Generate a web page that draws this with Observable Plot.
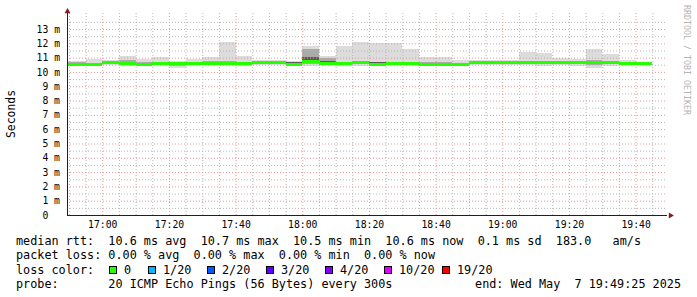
<!DOCTYPE html>
<html><head><meta charset="utf-8">
<script src="https://cdn.jsdelivr.net/npm/d3@7"></script>
<script src="https://cdn.jsdelivr.net/npm/@observablehq/plot@0.6"></script>
<style>
html,body{margin:0;padding:0;background:#fff;}
#wrap{position:relative;width:697px;height:297px;overflow:hidden;font-family:"DejaVu Sans Mono",monospace;color:#000;}
#chart svg{display:block;}
#ylab{position:absolute;left:11px;top:114px;transform:translate(-50%,-50%) rotate(-90deg);font-size:11.4px;white-space:nowrap;}
#wm{position:absolute;left:682px;top:5px;writing-mode:vertical-rl;font-size:8.3px;color:#b4b4b4;white-space:pre;}
#legend{position:absolute;left:16px;top:234px;width:665px;font-size:11.8px;line-height:14.3px;white-space:pre;}
.ln{height:14.3px;display:flex;align-items:center;}
.lc-item{display:flex;align-items:center;}
.box{display:inline-block;width:6px;height:6px;border:1px solid #000;margin-right:7px;}
</style>
</head><body>
<div id="wrap">
  <div id="chart"></div>
  <div id="ylab">Seconds</div>
  <div id="wm">RRDTOOL / TOBI OETIKER</div>
  <div id="legend"></div>
</div>
<script>
// ---- data ----
const intervalStarts = ["16:50","16:55","17:00","17:05","17:10","17:15","17:20","17:25","17:30","17:35",
  "17:40","17:45","17:50","17:55","18:00","18:05","18:10","18:15","18:20","18:25",
  "18:30","18:35","18:40","18:45","18:50","18:55","19:00","19:05","19:10","19:15",
  "19:20","19:25","19:30","19:35","19:40"];
const medianMs = [10.54,10.55,10.63,10.62,10.55,10.57,10.61,10.61,10.61,10.61,
  10.61,10.63,10.63,10.53,10.71,10.61,10.56,10.63,10.54,10.56,
  10.56,10.54,10.54,10.54,10.63,10.63,10.65,10.63,10.63,10.63,
  10.68,10.63,10.63,10.61,10.61];
const smokeMax = [10.78,10.88,10.80,11.09,10.92,11.04,10.74,10.92,11.04,12.07,
  11.13,10.85,10.85,10.78,11.79,11.13,11.79,12.09,12.02,12.02,
  11.62,11.02,11.02,10.85,10.85,10.85,10.80,11.39,11.32,10.97,
  10.90,11.62,11.27,10.85,null];
const smokeMin = [10.39,10.48,10.50,10.45,10.45,10.47,10.30,10.48,10.50,10.50,
  10.42,10.52,10.52,10.50,10.45,10.50,10.40,10.45,10.45,10.48,
  10.48,10.48,10.48,10.50,10.50,10.48,10.52,10.50,10.40,10.50,
  10.45,10.31,10.45,10.50,null];
const smokeQ3 = [10.70,10.65,10.70,10.80,10.68,10.72,10.66,10.68,10.78,10.75,
  10.70,10.78,10.72,10.62,11.60,10.95,10.72,10.75,10.68,10.70,
  10.72,10.68,10.68,10.62,10.75,10.70,10.72,10.72,10.72,10.70,
  10.72,10.80,10.72,10.70,null];
const smokeQ1 = [10.48,10.50,10.55,10.55,10.50,10.52,10.45,10.55,10.55,10.55,
  10.52,10.58,10.58,10.52,10.55,10.55,10.50,10.55,10.50,10.52,
  10.52,10.50,10.50,10.52,10.58,10.55,10.58,10.58,10.55,10.58,
  10.55,10.50,10.55,10.55,null];
const coreHi = [10.58,10.58,10.66,10.70,10.58,10.64,10.64,10.64,10.70,10.64,
  10.64,10.70,10.66,10.66,11.05,10.75,10.60,10.66,10.66,10.60,
  10.66,10.58,10.58,10.58,10.68,10.58,10.68,10.66,10.66,10.66,
  10.60,10.72,10.66,10.64,null];
const coreLo = [10.52,10.53,10.60,10.62,10.53,10.58,10.58,10.58,10.62,10.58,
  10.58,10.62,10.60,10.60,10.75,10.62,10.53,10.60,10.60,10.53,
  10.58,10.52,10.52,10.52,10.62,10.53,10.62,10.60,10.60,10.60,
  10.54,10.62,10.60,10.58,null];
const xTickLabels = ["17:00","17:20","17:40","18:00","18:20","18:40","19:00","19:20","19:40"];
const yTickValues = [0,1,2,3,4,5,6,7,8,9,10,11,12,13];
const lossColors = [["0","#26ff00"],["1/20","#00b8ff"],["2/20","#0059ff"],["3/20","#5e00ff"],["4/20","#7e00ff"],["10/20","#dd00ff"],["19/20","#ff0000"]];
const legendLines = [
  "median rtt:  10.6 ms avg  10.7 ms max  10.5 ms min  10.6 ms now  0.1 ms sd  183.0   am/s",
  "packet loss: 0.00 % avg  0.00 % max  0.00 % min  0.00 % now"
];
const probeText = "probe:       20 ICMP Echo Pings (56 Bytes) every 300s";
const endText = "end: Wed May  7 19:49:25 2025";
const startTime = "16:49:25", endTime = "19:49:25";

// ---- build ----
const T = s => { const [h,m,sec] = s.split(":").map(Number); return new Date(Date.UTC(2025,4,7,h,m,sec||0)); };
const x0 = T(startTime), x1 = T(endTime);
const yTop = 14.12;
const rows = intervalStarts.map((s,i) => ({
  t0: i === 0 ? x0 : T(s),
  t1: new Date(T(s).getTime() + 5*60000),
  med: medianMs[i], max: smokeMax[i], min: smokeMin[i],
  q3: smokeQ3[i], q1: smokeQ1[i], chi: coreHi[i], clo: coreLo[i]
}));
const smoke = rows.filter(d => d.max != null);
const minute5 = d3.utcMinute.every(5).range(T("16:50"), x1);
const majorX = xTickLabels.map(T);
const minorX = minute5.filter(d => d.getUTCMinutes() % 20 !== 0);
const majorY = yTickValues.filter(v => v > 0);
const minorY = yTickValues.map(v => v + 0.5);
const bandHalf = 0.1;

const chart = Plot.plot({
  width: 697, height: 232,
  marginLeft: 67, marginRight: 30, marginTop: 13, marginBottom: 17,
  style: {fontFamily: "DejaVu Sans Mono", fontSize: "9.75px", color: "#000", background: "transparent", overflow: "visible"},
  x: {type: "utc", domain: [x0, x1], ticks: majorX, tickFormat: d3.utcFormat("%H:%M"), tickSize: 0, tickPadding: 6, label: null},
  y: {domain: [0, yTop], ticks: yTickValues, tickFormat: d => d === 0 ? "0\u00a0\u00a0" : `${d} m`, tickSize: 0, tickPadding: 7.5, label: null},
  marks: [
    Plot.rect(smoke, {x1: "t0", x2: "t1", y1: "min", y2: "max", fill: "#dcdcdc", shapeRendering: "crispEdges"}),
    Plot.rect(smoke, {x1: "t0", x2: "t1", y1: "q1", y2: "q3", fill: "#aaaaaa", shapeRendering: "crispEdges"}),
    Plot.rect(smoke, {x1: "t0", x2: "t1", y1: "clo", y2: "chi", fill: "#5a5a5a", shapeRendering: "crispEdges"}),
    Plot.ruleX(minorX, {stroke: "#b8b8b8", strokeDasharray: "1,2"}),
    Plot.ruleY(minorY, {stroke: "#b8b8b8", strokeDasharray: "1,2"}),
    Plot.ruleX(majorX, {stroke: "#e89a9a", strokeDasharray: "1,2"}),
    Plot.ruleY(majorY, {stroke: "#e89a9a", strokeDasharray: "1,2"}),
    Plot.rect(rows, {x1: "t0", x2: "t1", y1: d => d.med - bandHalf, y2: d => d.med + bandHalf, fill: "#26ff00", shapeRendering: "crispEdges"}),
    Plot.ruleX([x0], {stroke: "#1f1f1f"}),
    Plot.ruleY([0], {stroke: "#1f1f1f", x1: x0, x2: x1}),
    Plot.dot([x0], {x: d => d, y: () => yTop, symbol: "triangle", r: 2.2, fill: "#801f1f", stroke: "none", dy: -2}),
    Plot.dot([x1], {x: d => d, y: () => 0, symbol: "triangle", r: 2.2, fill: "#801f1f", stroke: "none", rotate: 90, dx: 3})
  ]
});
document.getElementById("chart").appendChild(chart);

// legend
const lg = document.getElementById("legend");
legendLines.forEach(t => { const d = document.createElement("div"); d.className = "ln"; d.textContent = t; lg.appendChild(d); });
const lc = document.createElement("div"); lc.className = "ln";
const lbl = document.createElement("span"); lbl.textContent = "loss color:"; lbl.style.width = "93px"; lbl.style.display = "inline-block"; lc.appendChild(lbl);
const itemWidths = [39, 59, 59, 59, 59, 58, 60];
lossColors.forEach(([name, col], i) => {
  const it = document.createElement("span"); it.className = "lc-item"; it.style.width = itemWidths[i] + "px";
  const b = document.createElement("span"); b.className = "box"; b.style.background = col; it.appendChild(b);
  const t = document.createElement("span"); t.textContent = name; it.appendChild(t);
  lc.appendChild(it);
});
lg.appendChild(lc);
const pl = document.createElement("div"); pl.className = "ln"; pl.style.justifyContent = "space-between";
const p1 = document.createElement("span"); p1.textContent = probeText;
const p2 = document.createElement("span"); p2.textContent = endText;
pl.appendChild(p1); pl.appendChild(p2); lg.appendChild(pl);
</script>
</body></html>
